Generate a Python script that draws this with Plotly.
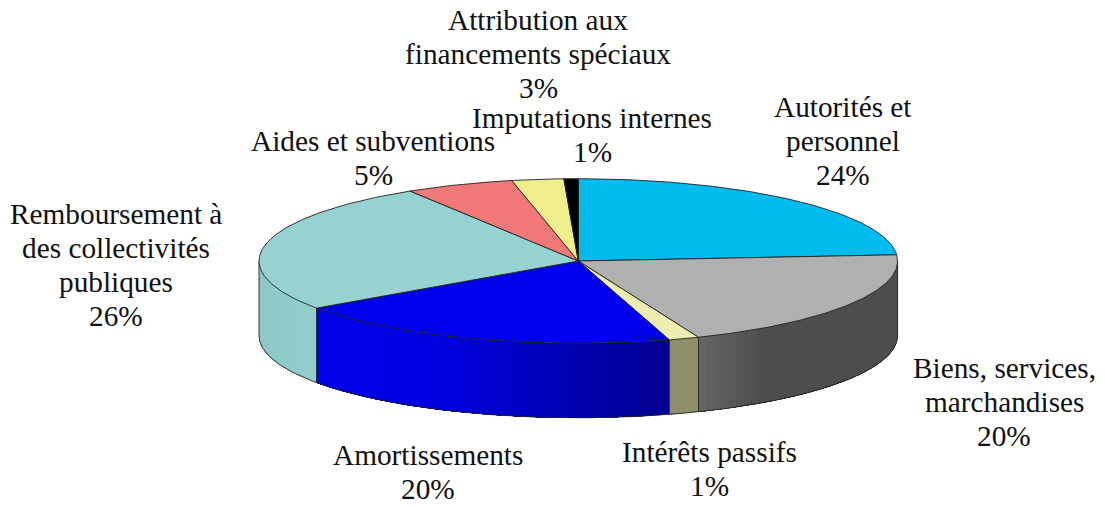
import numpy as np
import plotly.graph_objects as go

categories = ["Autorités et personnel", "Biens, services, marchandises", "Intérêts passifs",
              "Amortissements", "Remboursement à des collectivités publiques",
              "Aides et subventions", "Attribution aux financements spéciaux", "Imputations internes"]
values = [23.8, 20.06, 1.54, 19.9, 25.87, 5.49, 2.62, 0.72]
percent_labels = ["24%", "20%", "1%", "20%", "26%", "5%", "3%", "1%"]
name_lines = [["Autorités et", "personnel"], ["Biens, services,", "marchandises"], ["Intérêts passifs"],
              ["Amortissements"], ["Remboursement à", "des collectivités", "publiques"],
              ["Aides et subventions"], ["Attribution aux", "financements spéciaux"], ["Imputations internes"]]
colors = ["#00BBEE", "#B0B0B0", "#EEEEB0", "#0000EE", "#96D2D2", "#F07878", "#EEEE8C", "#000000"]

# label layout: centre x, first line y
label_x = [843, 1004, 709, 428, 116, 373, 538, 592]
label_y = [107, 368, 452, 455, 214, 141, 20, 118]
line_step = 33.9
font_size = 29.3

# pie geometry on the pixel-like axes
cx, cy, rx, ry, depth = 578.3, 261.0, 319.3, 82.3, 74.5
shade_x = [259, 316, 450, 668, 696, 700, 760, 898]
shade_k = [0.95, 0.98, 0.93, 0.60, 0.60, 0.58, 0.44, 0.44]


def pt(theta, dy=0.0):
    t = np.radians(theta)
    return cx + rx * np.sin(t), cy - ry * np.cos(t) + dy


def shade(color, x):
    k = float(np.interp(x, shade_x, shade_k))
    r, g, b = [int(color[i:i + 2], 16) for i in (1, 3, 5)]
    return f"rgb({round(r*k)},{round(g*k)},{round(b*k)})"


fig = go.Figure()
edges = np.concatenate([[0], np.cumsum(values)]) / sum(values) * 360
EDGE = "#222222"

# side wall: each strip reaches to the slice end, the next one paints over it
for i, c in enumerate(colors):
    lo, hi = max(edges[i], 90), min(edges[i + 1], 270)
    if hi <= lo:
        continue
    n = max(2, int((hi - lo) / 1.5))
    steps = np.linspace(lo, hi, n + 1)
    for a, b in zip(steps[:-1], steps[1:]):
        ts = np.linspace(a, hi, max(3, int((hi - a) * 2)))
        x1, y1 = pt(ts)
        x2, y2 = pt(ts[::-1], depth)
        xa = float(pt((a + b) / 2)[0])
        fig.add_trace(go.Scatter(x=np.r_[x1, x2], y=np.r_[y1, y2], mode="none", fill="toself",
                                 fillcolor=shade(c, xa), hoverinfo="skip"))

# side outlines
ts = np.linspace(90, 270, 181)
bx, by = pt(ts, depth)
fig.add_trace(go.Scatter(x=bx, y=by, mode="lines", line=dict(color=EDGE, width=0.9), hoverinfo="skip"))
for e in [90, 270] + [e for e in edges if 90 < e < 270]:
    x0, y0 = pt(e)
    x1, y1 = pt(e, depth)
    fig.add_trace(go.Scatter(x=[x0, x1], y=[y0, y1], mode="lines",
                             line=dict(color=EDGE, width=0.9), hoverinfo="skip"))

# top sectors
for i, c in enumerate(colors):
    ts = np.linspace(edges[i], edges[i + 1], max(3, int(values[i] * 6)))
    ax, ay = pt(ts)
    fig.add_trace(go.Scatter(x=np.r_[cx, ax, cx], y=np.r_[cy, ay, cy], mode="lines", fill="toself",
                             fillcolor=c, line=dict(color=EDGE, width=0.9),
                             name=categories[i], hoverinfo="name"))

# labels
for i, lines in enumerate(name_lines):
    for j, t in enumerate(lines + [percent_labels[i]]):
        fig.add_annotation(x=label_x[i], y=label_y[i] + j * line_step, text=t, showarrow=False,
                           xanchor="center", yanchor="middle",
                           font=dict(family="Liberation Serif", size=font_size, color="#111111"))

fig.update_layout(width=1105, height=507, margin=dict(l=0, r=0, t=0, b=0), showlegend=False,
                  paper_bgcolor="white", plot_bgcolor="white",
                  xaxis=dict(range=[0, 1105], visible=False, fixedrange=True),
                  yaxis=dict(range=[507, 0], visible=False, fixedrange=True))
fig.write_html("out.html", config={"displayModeBar": False},
               post_script="document.body.style.margin='0';document.body.style.overflow='hidden';")
